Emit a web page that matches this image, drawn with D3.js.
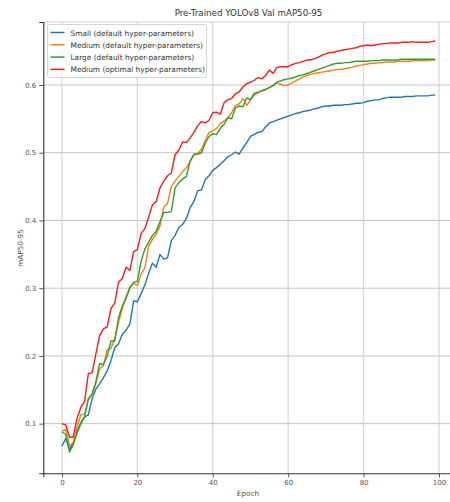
<!DOCTYPE html>
<html>
<head>
<meta charset="utf-8">
<script src="https://cdn.jsdelivr.net/npm/d3@7"></script>
<style>
  body { margin: 0; background: #fff; }
  svg { display: block; font-family: "DejaVu Sans", sans-serif; }
</style>
</head>
<body>
<svg id="chart" width="450" height="502"></svg>
<script>
const epochs = d3.range(0, 100);

const small = [
  0.067, 0.078, 0.062, 0.072, 0.089, 0.101, 0.110, 0.113, 0.137, 0.151,
  0.159, 0.168, 0.178, 0.193, 0.212, 0.218, 0.232, 0.238, 0.247, 0.281,
  0.280, 0.292, 0.305, 0.322, 0.337, 0.331, 0.350, 0.343, 0.345, 0.370,
  0.378, 0.390, 0.394, 0.403, 0.419, 0.428, 0.444, 0.445, 0.460, 0.466,
  0.474, 0.478, 0.483, 0.488, 0.494, 0.497, 0.501, 0.498, 0.507, 0.515,
  0.524, 0.527, 0.530, 0.531, 0.538, 0.544, 0.546, 0.548, 0.550, 0.552,
  0.554, 0.556, 0.558, 0.559, 0.561, 0.562, 0.563, 0.565, 0.566, 0.568,
  0.569, 0.569, 0.570, 0.570, 0.570, 0.571, 0.571, 0.572, 0.573, 0.573,
  0.574, 0.576, 0.577, 0.578, 0.578, 0.580, 0.581, 0.582, 0.582, 0.582,
  0.582, 0.583, 0.583, 0.583, 0.584, 0.584, 0.584, 0.584, 0.585, 0.585
];

const mediumDefault = [
  0.089, 0.091, 0.067, 0.072, 0.095, 0.113, 0.114, 0.135, 0.143, 0.160,
  0.181, 0.186, 0.209, 0.211, 0.226, 0.250, 0.270, 0.287, 0.302, 0.307,
  0.304, 0.321, 0.330, 0.362, 0.372, 0.380, 0.392, 0.420, 0.425, 0.450,
  0.458, 0.465, 0.472, 0.478, 0.487, 0.498, 0.499, 0.505, 0.518, 0.530,
  0.532, 0.536, 0.543, 0.547, 0.551, 0.559, 0.570, 0.572, 0.580, 0.570,
  0.578, 0.585, 0.589, 0.592, 0.594, 0.596, 0.600, 0.603, 0.601, 0.599,
  0.600, 0.603, 0.606, 0.609, 0.612, 0.614, 0.616, 0.617, 0.618, 0.619,
  0.620, 0.621, 0.622, 0.623, 0.623, 0.624, 0.625, 0.626, 0.628, 0.629,
  0.630, 0.631, 0.632, 0.632, 0.633, 0.633, 0.634, 0.634, 0.634, 0.635,
  0.635, 0.635, 0.635, 0.636, 0.636, 0.636, 0.636, 0.636, 0.637, 0.637
];

const large = [
  0.088, 0.084, 0.058, 0.069, 0.086, 0.100, 0.110, 0.137, 0.144, 0.162,
  0.189, 0.187, 0.200, 0.222, 0.222, 0.256, 0.274, 0.285, 0.300, 0.309,
  0.310, 0.340, 0.358, 0.368, 0.378, 0.384, 0.398, 0.412, 0.412, 0.413,
  0.448, 0.456, 0.461, 0.465, 0.488, 0.497, 0.498, 0.500, 0.514, 0.524,
  0.528, 0.527, 0.536, 0.542, 0.552, 0.550, 0.566, 0.569, 0.568, 0.581,
  0.578, 0.588, 0.589, 0.591, 0.593, 0.596, 0.599, 0.604, 0.606, 0.608,
  0.609, 0.610, 0.612, 0.614, 0.615, 0.617, 0.619, 0.621, 0.623, 0.625,
  0.627, 0.629, 0.631, 0.632, 0.632, 0.633, 0.633, 0.634, 0.635, 0.635,
  0.635, 0.635, 0.636, 0.636, 0.636, 0.637, 0.637, 0.637, 0.637, 0.637,
  0.638, 0.638, 0.638, 0.638, 0.638, 0.638, 0.638, 0.638, 0.638, 0.638
];

const mediumOptimal = [
  0.100, 0.098, 0.080, 0.080, 0.108, 0.124, 0.133, 0.174, 0.175, 0.203,
  0.230, 0.240, 0.243, 0.270, 0.278, 0.309, 0.314, 0.331, 0.326, 0.354,
  0.357, 0.381, 0.388, 0.405, 0.423, 0.428, 0.448, 0.458, 0.466, 0.470,
  0.497, 0.504, 0.516, 0.515, 0.522, 0.530, 0.540, 0.546, 0.544, 0.548,
  0.559, 0.560, 0.557, 0.574, 0.578, 0.580, 0.587, 0.590, 0.597, 0.602,
  0.604, 0.607, 0.611, 0.609, 0.614, 0.622, 0.617, 0.626, 0.627, 0.627,
  0.627, 0.630, 0.632, 0.633, 0.635, 0.637, 0.637, 0.639, 0.641, 0.644,
  0.646, 0.648, 0.648, 0.650, 0.651, 0.652, 0.653, 0.654, 0.655, 0.657,
  0.658, 0.659, 0.658, 0.659, 0.660, 0.661, 0.661, 0.662, 0.662, 0.662,
  0.663, 0.663, 0.663, 0.664, 0.663, 0.663, 0.663, 0.663, 0.664, 0.665
];

const seriesNames = [
  'Small (default hyper-parameters)',
  'Medium (default hyper-parameters)',
  'Large (default hyper-parameters)',
  'Medium (optimal hyper-parameters)'
];
const xTicks = [0, 20, 40, 60, 80, 100];
const yTicks = [0.1, 0.2, 0.3, 0.4, 0.5, 0.6];

const series = [
  { name: seriesNames[0], values: small, color: '#1f77b4' },
  { name: seriesNames[1], values: mediumDefault, color: '#ff7f0e' },
  { name: seriesNames[2], values: large, color: '#2ca02c' },
  { name: seriesNames[3], values: mediumOptimal, color: '#ff1a1a' }
];

const svg = d3.select('#chart');
const margin = { top: 22, left: 43.3 };
// plot runs past the right edge of the picture, like the cropped original
const width = 410.6;
const height = 451.3;

const chart = svg.append('g')
  .attr('transform', `translate(${margin.left},${margin.top})`);

// matplotlib style 5% padding around the data
const xScale = d3.scaleLinear().domain([-4.95, 103.95]).range([0, width]);
const yScale = d3.scaleLinear().domain([0.0267, 0.693]).range([height, 0]);

// grid
chart.append('g')
  .selectAll('line')
  .data(xTicks)
  .join('line')
  .attr('x1', d => xScale(d)).attr('x2', d => xScale(d))
  .attr('y1', 0).attr('y2', height)
  .attr('stroke', '#d9d9d9')
  .attr('stroke-width', 1.3);

chart.append('g')
  .selectAll('line')
  .data(yTicks)
  .join('line')
  .attr('x1', 0).attr('x2', width)
  .attr('y1', d => yScale(d)).attr('y2', d => yScale(d))
  .attr('stroke', '#c4c4c4')
  .attr('stroke-width', 1);

// top spine (light)
chart.append('line')
  .attr('x1', 0).attr('x2', width)
  .attr('y1', 0).attr('y2', 0)
  .attr('stroke', '#cccccc');

// axes
const xAxis = chart.append('g')
  .attr('transform', `translate(0,${height})`)
  .call(d3.axisBottom(xScale).tickValues(xTicks).tickSize(4).tickPadding(3));

const yAxis = chart.append('g')
  .call(d3.axisLeft(yScale).tickValues(yTicks).tickSize(4).tickPadding(3).tickFormat(d3.format('.1f')));

[xAxis, yAxis].forEach(ax => {
  ax.select('.domain').attr('stroke', '#333').attr('stroke-width', 1.1);
  ax.selectAll('.tick line').attr('stroke', '#555');
  ax.selectAll('.tick text')
    .attr('fill', '#555')
    .style('font-size', '7px')
    .style('font-family', '"DejaVu Sans", sans-serif');
});

// lines
const line = d3.line()
  .x((d, i) => xScale(epochs[i]))
  .y(d => yScale(d));

chart.append('g')
  .selectAll('path')
  .data(series)
  .join('path')
  .attr('fill', 'none')
  .attr('stroke', d => d.color)
  .attr('stroke-width', 1.4)
  .attr('stroke-linejoin', 'round')
  .attr('d', d => line(d.values));

// title and axis labels
svg.append('text')
  .attr('x', 248.5)
  .attr('y', 15.5)
  .attr('text-anchor', 'middle')
  .attr('fill', '#333')
  .style('font-size', '8.7px')
  .text('Pre-Trained YOLOv8 Val mAP50-95');

svg.append('text')
  .attr('x', 248)
  .attr('y', 496)
  .attr('text-anchor', 'middle')
  .attr('fill', '#555')
  .style('font-size', '7.3px')
  .text('Epoch');

svg.append('text')
  .attr('transform', 'rotate(-90)')
  .attr('x', -248)
  .attr('y', 22.5)
  .attr('text-anchor', 'middle')
  .attr('fill', '#555')
  .style('font-size', '7.3px')
  .text('mAP50-95');

// legend
const legend = svg.append('g').attr('transform', 'translate(47.5,24.5)');

legend.append('rect')
  .attr('width', 159)
  .attr('height', 53)
  .attr('rx', 2)
  .attr('fill', '#fff')
  .attr('fill-opacity', 0.8)
  .attr('stroke', '#d6d6d6');

const rows = legend.selectAll('.row')
  .data(series)
  .join('g')
  .attr('class', 'row')
  .attr('transform', (d, i) => `translate(0,${8 + i * 12.3})`);

rows.append('line')
  .attr('x1', 3).attr('x2', 17)
  .attr('stroke', d => d.color)
  .attr('stroke-width', 1.5);

rows.append('text')
  .attr('x', 23)
  .attr('y', 3)
  .attr('fill', '#333')
  .style('font-size', '7.4px')
  .text(d => d.name);
</script>
</body>
</html>
